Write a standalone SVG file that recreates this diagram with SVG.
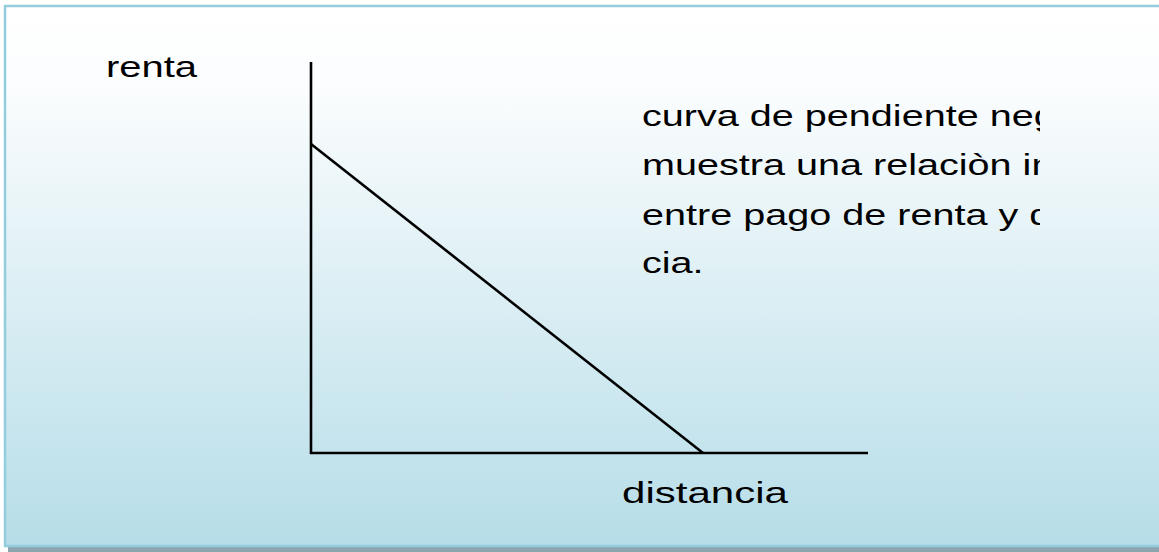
<svg xmlns="http://www.w3.org/2000/svg" width="1159" height="552" viewBox="0 0 1159 552">
  <defs>
    <linearGradient id="bg" x1="0" y1="0" x2="0" y2="1">
      <stop offset="0" stop-color="#ffffff"/>
      <stop offset="0.15" stop-color="#fbfdfe"/>
      <stop offset="1" stop-color="#b6dde8"/>
    </linearGradient>
    <clipPath id="textclip">
      <rect x="600" y="90" width="440" height="220"/>
    </clipPath>
    <style>
      .lbl { font-family: "Liberation Sans", Arial, sans-serif; font-size: 30px; fill: #000000; }
      .ax { stroke: #000000; stroke-width: 2.6; fill: none; stroke-linecap: butt; }
    </style>
  </defs>

  <g id="frame">
    <rect x="8" y="9" width="1160" height="545" fill="#8ba6ae"/>
    <rect x="5" y="6" width="1160" height="540" fill="url(#bg)" stroke="#93cddd" stroke-width="2.5"/>
  </g>

  <g id="connectors">
    <line class="ax" x1="311" y1="62" x2="311" y2="454"/>
    <line class="ax" x1="310" y1="453" x2="868" y2="453"/>
    <line class="ax" x1="311" y1="144" x2="703" y2="453"/>
  </g>

  <g id="label-renta">
    <text class="lbl" x="106" y="77" textLength="91" lengthAdjust="spacingAndGlyphs">renta</text>
  </g>

  <g id="label-distancia">
    <text class="lbl" x="622" y="503" textLength="166" lengthAdjust="spacingAndGlyphs">distancia</text>
  </g>

  <g id="note" clip-path="url(#textclip)">
    <g transform="translate(642,0) scale(1.32,1)">
      <text class="lbl" x="0" y="126">curva de pendiente negativa</text>
      <text class="lbl" x="0" y="175">muestra una relaciòn inversa</text>
      <text class="lbl" x="0" y="225">entre pago de renta y distan-</text>
      <text class="lbl" x="0" y="273">cia.</text>
    </g>
  </g>
</svg>
